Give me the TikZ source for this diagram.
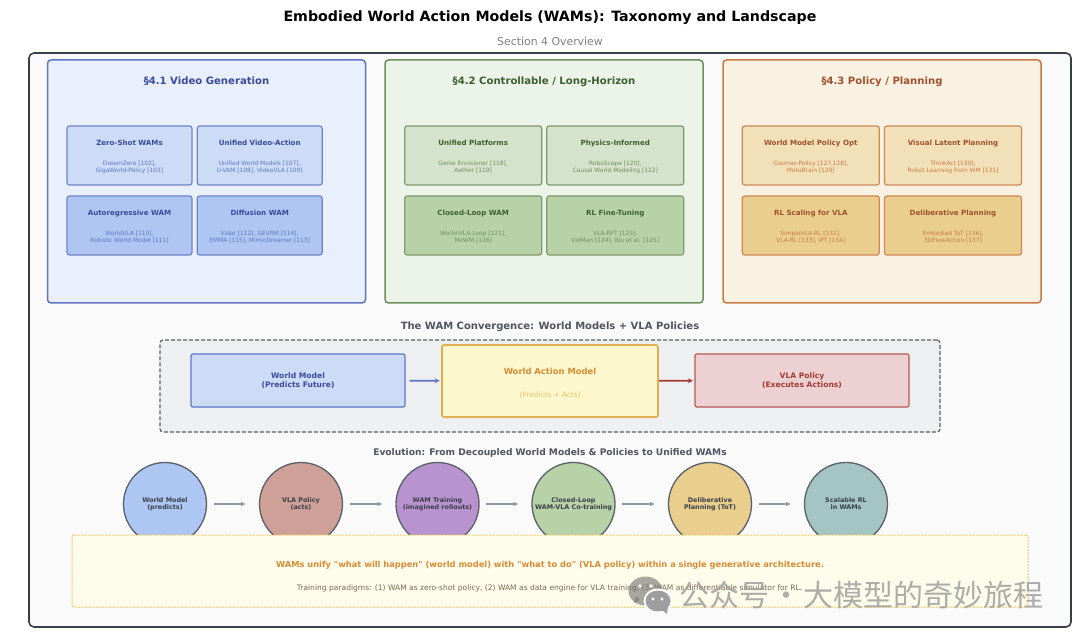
\documentclass[tikz,border=0pt]{standalone}
\usepackage{fontspec}
\setmainfont{DejaVu Sans}
\newfontfamily\plainq{DejaVu Sans}
\newfontfamily\cjkwm{Noto Sans CJK SC}
\usetikzlibrary{arrows.meta}
\definecolor{bluePanel}{HTML}{E9F0FB}\definecolor{blueEdge}{HTML}{5F75C4}\definecolor{blueA}{HTML}{CCDBF6}\definecolor{blueB}{HTML}{AFC6F2}\definecolor{blueHead}{HTML}{3A4A9C}
\definecolor{greenPanel}{HTML}{ECF3E9}\definecolor{greenEdge}{HTML}{6E8F5C}\definecolor{greenA}{HTML}{D5E3CC}\definecolor{greenB}{HTML}{B8D2A8}\definecolor{greenHead}{HTML}{3D5F2E}
\definecolor{orangePanel}{HTML}{F9F1E1}\definecolor{orangeEdge}{HTML}{C97B45}\definecolor{orangeA}{HTML}{F2E1B8}\definecolor{orangeB}{HTML}{E9CE8E}\definecolor{orangeHead}{HTML}{A0512D}
\definecolor{wamFill}{HTML}{FCF7CC}\definecolor{wamEdge}{HTML}{E0B050}\definecolor{wamText}{HTML}{D98B35}\definecolor{wamSub}{HTML}{EDC36B}
\definecolor{vlaFill}{HTML}{EDD0D2}\definecolor{vlaEdge}{HTML}{B55A55}\definecolor{vlaText}{HTML}{A33B33}
\definecolor{ink}{HTML}{3A3F47}\definecolor{headGrey}{HTML}{4F5661}\definecolor{arrowGrey}{HTML}{8A98A8}\definecolor{ringGrey}{HTML}{5A6068}
\definecolor{convFill}{HTML}{EEEFF1}
\definecolor{noteFill}{HTML}{FEFDEB}\definecolor{noteEdge}{HTML}{ECCB6D}\definecolor{noteText}{HTML}{7A6A55}
\definecolor{cA}{HTML}{AEC6F2}\definecolor{cB}{HTML}{CFA097}\definecolor{cC}{HTML}{B993D0}\definecolor{cD}{HTML}{B8D2A8}\definecolor{cE}{HTML}{E9CE8E}\definecolor{cF}{HTML}{A4C5C4}
\newcommand{\fsz}[2]{\fontsize{#1}{#2}\selectfont}
% name, cx, cy, width, fill, edge, head colour, title, body
\newcommand{\cellbox}[9]{%
  \node[cellframe,minimum width=#4pt,fill=#5,draw=#6!90!white] (#1) at (#2,#3) {};
  \node[cellhead,text=#7] (#1-t) at (#2,#3-12) {#8};
  \node[cellbody,text=#6] (#1-b) at (#2,#3+11.5) {#9};
}
\tikzset{
  txt/.style={inner sep=0,outer sep=0,align=center},
  panel/.style={draw,line width=1.5pt,rounded corners=3.5pt,minimum height=243pt,minimum width=318pt,inner sep=0},
  paneltitle/.style={txt,font=\fsz{10.1}{12}\bfseries,text height=7.6pt,text depth=2pt},
  cellframe/.style={line width=1.2pt,rounded corners=2.5pt,minimum height=59pt,inner sep=0},
  cellhead/.style={txt,font=\fsz{7.1}{8}\bfseries,text height=5.3pt,text depth=1.4pt},
  cellbody/.style={txt,font=\fsz{5.9}{7}},
  flowbox/.style={draw,line width=1.2pt,rounded corners=2pt,inner sep=0,minimum width=214pt,minimum height=53pt},
  ev/.style={circle,draw=ringGrey,line width=1.3pt,minimum size=83pt,inner sep=0},
  evlabel/.style={txt,font=\fsz{6.4}{7.2}\bfseries,text=ink},
  evarrow/.style={draw=arrowGrey,line width=1.2pt,-{Stealth[length=4.5pt,width=4.5pt]},shorten <=6.5pt,shorten >=13.5pt},
}
\begin{document}
\begin{tikzpicture}[x=1pt,y=-1pt]
\useasboundingbox (0,0) rectangle (1080,639);
\fill[white] (0,0) rectangle (1080,639);
\node[txt,font=\fsz{14.2}{16}\bfseries,text=black,text height=10.5pt,text depth=3pt] (maintitle) at (550,17.5) {Embodied World Action Models (WAMs): Taxonomy and Landscape};
\node[txt,font=\fsz{10.9}{12},text=gray] (subtitle) at (550,41) {Section 4 Overview};
\node[draw=ink,fill=white!98!black,line width=1.6pt,rounded corners=5pt,minimum width=1042pt,minimum height=574pt,inner sep=0] (outer) at (550,340) {};
% Panels
\node[panel,draw=blueEdge,fill=bluePanel] (p1) at (206.5,181.5) {};
\node[panel,draw=greenEdge,fill=greenPanel] (p2) at (544,181.5) {};
\node[panel,draw=orangeEdge,fill=orangePanel] (p3) at (882,181.5) {};
\node[paneltitle,text=blueHead] (p1t) at (206.5,82) {§4.1 Video Generation};
\node[paneltitle,text=greenHead] (p2t) at (544,82) {§4.2 Controllable / Long-Horizon};
\node[paneltitle,text=orangeHead] (p3t) at (882,82) {§4.3 Policy / Planning};
% Panel 1 cells
\cellbox{a1}{129.5}{155.5}{125}{blueA}{blueEdge}{blueHead}{Zero-Shot WAMs}{DreamZero [102],\\GigaWorld-Policy [103]}
\cellbox{a2}{259.7}{155.5}{125}{blueA}{blueEdge}{blueHead}{Unified Video-Action}{Unified World Models [107],\\U-VAM [108], VideoVLA [109]}
\cellbox{a3}{129.5}{225.5}{125}{blueB}{blueEdge}{blueHead}{Autoregressive WAM}{WorldVLA [110],\\Robotic World Model [111]}
\cellbox{a4}{259.7}{225.5}{125}{blueB}{blueEdge}{blueHead}{Diffusion WAM}{Vidar [112], GEVRM [114],\\EMMA [115], MimicDreamer [113]}
% Panel 2 cells
\cellbox{b1}{473.2}{155.5}{137}{greenA}{greenEdge}{greenHead}{Unified Platforms}{Genie Envisioner [118],\\Aether [119]}
\cellbox{b2}{615.3}{155.5}{137}{greenA}{greenEdge}{greenHead}{Physics-Informed}{RoboScape [120],\\Causal World Modeling [122]}
\cellbox{b3}{473.2}{225.5}{137}{greenB}{greenEdge}{greenHead}{Closed-Loop WAM}{World-VLA-Loop [121],\\MoWM [126]}
\cellbox{b4}{615.3}{225.5}{137}{greenB}{greenEdge}{greenHead}{RL Fine-Tuning}{VLA-RFT [123],\\VidMan [124], Wu et al. [125]}
% Panel 3 cells
\cellbox{c1}{810.8}{155.5}{137}{orangeA}{orangeEdge}{orangeHead}{World Model Policy Opt}{Cosmos-Policy [127,128],\\MotuBrain [129]}
\cellbox{c2}{953}{155.5}{137}{orangeA}{orangeEdge}{orangeHead}{Visual Latent Planning}{ThinkAct [130],\\Robot Learning from WM [131]}
\cellbox{c3}{810.8}{225.5}{137}{orangeB}{orangeEdge}{orangeHead}{RL Scaling for VLA}{SimpleVLA-RL [132],\\VLA-RL [133], IPT [134]}
\cellbox{c4}{953}{225.5}{137}{orangeB}{orangeEdge}{orangeHead}{Deliberative Planning}{Embodied ToT [136],\\3DFlowAction [137]}
% Convergence
\node[txt,font=\fsz{10}{12}\bfseries,text=headGrey] (convtitle) at (550,327) {The WAM Convergence: World Models + VLA Policies};
\node[draw=ringGrey,dash pattern=on 4pt off 2pt,fill=convFill,line width=1.2pt,rounded corners=3pt,minimum width=780pt,minimum height=92pt,inner sep=0] (conv) at (550,386) {};
\node[flowbox,draw=blueEdge,fill=blueA] (wm) at (298,380.5) {};
\node[txt,font=\fsz{7.6}{9.2}\bfseries,text=blueHead] (wmt) at (298,380.5) {World Model\\(Predicts Future)};
\node[flowbox,draw=wamEdge,fill=wamFill,line width=1.7pt,minimum width=216pt,minimum height=72pt] (wam) at (550,381) {};
\node[txt,font=\fsz{8.4}{10}\bfseries,text=wamText] (wamt) at (550,371.5) {World Action Model};
\node[txt,font=\fsz{7.3}{9},text=wamSub] (wams) at (550,395) {(Predicts + Acts)};
\node[flowbox,draw=vlaEdge,fill=vlaFill] (vla) at (802,380.5) {};
\node[txt,font=\fsz{7.6}{9.2}\bfseries,text=vlaText] (vlat) at (802,380.5) {VLA Policy\\(Executes Actions)};
\draw[draw=blueEdge,line width=1.7pt,-{Stealth[length=5pt,width=5pt]},shorten <=4pt,shorten >=1.5pt] (wm) -- (wam);
\draw[draw=vlaText,line width=1.7pt,-{Stealth[length=5pt,width=5pt]},shorten >=1.5pt] (wam) -- (vla);
% Evolution
\node[txt,font=\fsz{9.1}{11}\bfseries,text=headGrey] (evtitle) at (550,453) {Evolution: From Decoupled World Models \& Policies to Unified WAMs};
\node[ev,fill=cA] (e1) at (165,504) {};
\node[ev,fill=cB] (e2) at (301,504) {};
\node[ev,fill=cC] (e3) at (437.5,504) {};
\node[ev,fill=cD] (e4) at (573.5,504) {};
\node[ev,fill=cE] (e5) at (710,504) {};
\node[ev,fill=cF] (e6) at (846,504) {};
\node[evlabel] (e1t) at (165,504) {World Model\\(predicts)};
\node[evlabel] (e2t) at (301,504) {VLA Policy\\(acts)};
\node[evlabel] (e3t) at (437.5,504) {WAM Training\\(imagined rollouts)};
\node[evlabel] (e4t) at (573.5,504) {Closed-Loop\\WAM-VLA Co-training};
\node[evlabel] (e5t) at (710,504) {Deliberative\\Planning (ToT)};
\node[evlabel] (e6t) at (846,504) {Scalable RL\\in WAMs};
\draw[evarrow] (e1) -- (e2);
\draw[evarrow] (e2) -- (e3);
\draw[evarrow] (e3) -- (e4);
\draw[evarrow] (e4) -- (e5);
\draw[evarrow] (e5) -- (e6);
% Note
\node[draw=noteEdge,dash pattern=on 2pt off 1pt,fill=noteFill,line width=1pt,rounded corners=2.5pt,minimum width=956pt,minimum height=72pt,inner sep=0] (note) at (550,571) {};
\node[txt,font=\plainq\bfseries\fsz{8.3}{10},text=wamText] (note1) at (550,565) {WAMs unify "what will happen" (world model) with "what to do" (VLA policy) within a single generative architecture.};
\node[txt,font=\fsz{7.55}{9},text=noteText] (note2) at (549.5,588) {Training paradigms: (1) WAM as zero-shot policy, (2) WAM as data engine for VLA training, (3) WAM as differentiable simulator for RL.};
% Watermark
\fill[black!55,opacity=.62] (645.5,591) ellipse (17pt and 14.5pt);
\fill[black!55,opacity=.62] (634,603) -- (640,600) -- (636,596) -- cycle;
\fill[white] (658,601) ellipse (14.5pt and 12.5pt);
\fill[black!38] (658,601) ellipse (12.5pt and 10.5pt);
\fill[black!38] (667,614) -- (662,610) -- (668,606) -- cycle;
\fill[white] (653,599) circle (1.6pt);
\fill[white] (662,599) circle (1.6pt);
\fill[white] (640,586) circle (1.8pt);
\fill[white] (651,586) circle (1.8pt);
\node[txt,font=\cjkwm\fsz{30}{32},text=black!38,opacity=.85,anchor=west] (wmark) at (679,595) {公众号\hspace{2.5pt}·\hspace{2.5pt}大模型的奇妙旅程};
\end{tikzpicture}
\end{document}
